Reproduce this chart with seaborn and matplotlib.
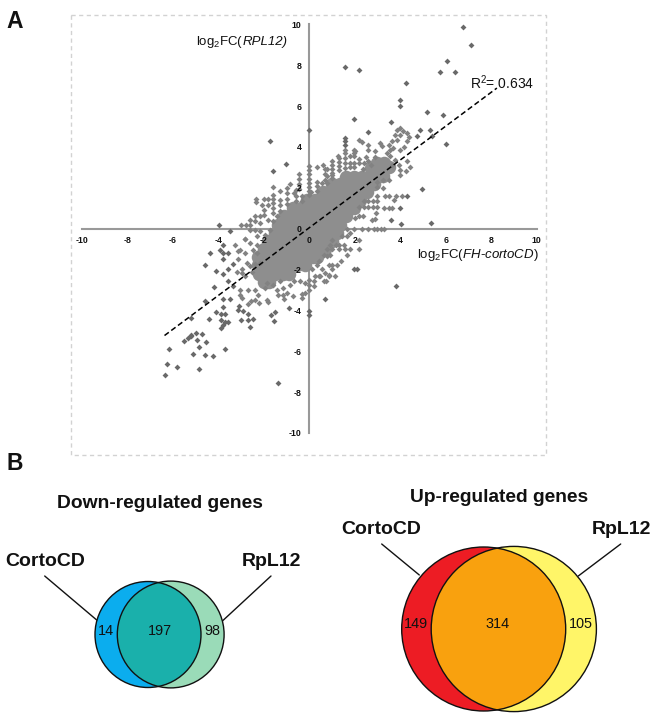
import matplotlib
matplotlib.use("Agg")
import matplotlib.pyplot as plt
from matplotlib.patches import Circle, Rectangle
import seaborn as sns

sns.set_style("white")
plt.rcParams["font.family"] = ["Liberation Sans", "DejaVu Sans"]
plt.rcParams["mathtext.fontset"] = "custom"
plt.rcParams["mathtext.rm"] = "Liberation Sans"
plt.rcParams["mathtext.it"] = "Liberation Sans:italic"
plt.rcParams["mathtext.bf"] = "Liberation Sans:bold"

W, H = 657, 720

tick_values = [-10, -8, -6, -4, -2, 0, 2, 4, 6, 8, 10]
fit_x = [-6.36, 8.25]
fit_y = [-5.23, 6.88]

core_pts = [
 (-2.0,-2.6),(-1.75,-2.6),
 (-2.2,-2.2),(-1.85,-2.2),(-1.5,-2.2),(-1.15,-2.2),(-0.9,-2.2),
 (-2.25,-1.8),(-1.95,-1.8),(-1.6,-1.8),(-1.25,-1.8),(-0.9,-1.8),(-0.55,-1.8),(-0.2,-1.8),
 (-2.25,-1.4),(-1.95,-1.4),(-1.6,-1.4),(-1.25,-1.4),(-0.9,-1.4),(-0.55,-1.4),(-0.2,-1.4),(0.15,-1.4),(0.35,-1.4),
 (-2.0,-1.0),(-1.65,-1.0),(-1.3,-1.0),(-0.95,-1.0),(-0.6,-1.0),(-0.25,-1.0),(0.1,-1.0),(0.45,-1.0),(0.7,-1.0),
 (-1.8,-0.6),(-1.45,-0.6),(-1.1,-0.6),(-0.75,-0.6),(-0.4,-0.6),(-0.05,-0.6),(0.3,-0.6),(0.65,-0.6),(1.0,-0.6),
 (-1.5,-0.2),(-1.15,-0.2),(-0.8,-0.2),(-0.45,-0.2),(-0.1,-0.2),(0.25,-0.2),(0.6,-0.2),(0.95,-0.2),(1.2,-0.2),
 (-1.35,0.2),(-1.05,0.2),(-0.7,0.2),(-0.35,0.2),(0.0,0.2),(0.35,0.2),(0.7,0.2),(1.05,0.2),(1.35,0.2),
 (-1.1,0.6),(-0.85,0.6),(-0.5,0.6),(-0.15,0.6),(0.2,0.6),(0.55,0.6),(0.9,0.6),(1.25,0.6),(1.6,0.6),
 (-0.7,1.0),(-0.35,1.0),(0.0,1.0),(0.35,1.0),(0.7,1.0),(1.05,1.0),(1.4,1.0),(1.75,1.0),(1.95,1.0),
 (-0.1,1.4),(0.25,1.4),(0.6,1.4),(0.95,1.4),(1.3,1.4),(1.65,1.4),(2.0,1.4),(2.25,1.4),
 (0.6,1.8),(0.95,1.8),(1.3,1.8),(1.65,1.8),(2.0,1.8),(2.35,1.8),(2.55,1.8),
 (1.0,2.2),(1.35,2.2),(1.7,2.2),(2.05,2.2),(2.4,2.2),(2.75,2.2),(2.85,2.2),
 (1.6,2.55),(1.95,2.55),(2.3,2.55),(2.65,2.55),(3.0,2.55),(3.25,2.6),
 (2.7,2.95),(3.0,2.95),(3.35,2.95),(3.5,3.0),
 (3.0,3.2),(3.3,3.2),
]

fringe_pts = [
 # upper-left of the band
 (-1.57,2.02),(-0.84,2.2),(-1.3,1.86),(-1.57,1.66),(-2.33,1.47),(-2.33,1.3),(-2.0,1.47),(-1.79,1.47),(-1.57,1.47),
 (-2.08,1.17),(-1.79,1.17),(-1.57,1.25),(-1.3,1.42),(-1.3,1.17),(-1.57,1.0),(-1.57,0.77),(-2.0,0.93),(-2.0,0.68),(-1.27,0.85),
 (-0.98,2.0),(-0.98,1.74),(-0.98,1.47),(-0.98,1.22),(-0.69,1.74),(-0.6,1.9),(-0.6,1.58),(-0.6,1.33),(-0.32,1.58),(-0.32,1.33),
 (-0.44,2.69),(-0.44,2.45),(-0.44,2.2),(-0.44,1.95),(-2.99,0.2),(-2.8,0.2),(-2.6,0.44),(-2.6,0.2),(-2.37,0.6),(-2.18,0.6),(-2.37,0.36),(-2.15,0.28),
 (-2.6,-0.05),(-2.37,-0.05),(-2.15,-0.13),(-2.81,-0.5),(-2.3,-0.37),(-1.93,-0.3),(-1.71,-0.05),(-1.79,0.44),(-1.57,0.36),(-1.42,0.6),
 # column at x = 0 and above the band
 (0,3.05),(0,2.85),(0,2.65),(0,2.45),(0,2.25),(0,2.05),(0,1.85),(0,1.65),
 (0.34,3.0),(0.59,3.1),(0.78,2.92),(1.0,3.32),(1.0,3.1),(1.0,2.9),(1.0,2.7),(1.0,2.5),(1.26,3.57),(1.29,3.45),(1.29,3.25),(1.29,3.05),(1.29,2.85),
 (1.58,3.86),(1.58,3.7),(1.58,3.45),(1.58,3.2),(1.58,2.97),(1.99,3.86),(1.99,3.7),(1.99,3.54),(1.8,3.54),(2.17,3.2),(1.99,3.2),(1.99,3.0),
 (0.34,2.07),(0.34,2.3),(0.56,2.23),(0.78,2.56),(1.0,2.64),(0.78,2.23),(0.7,2.9),(0.7,2.65),(0.7,2.4),(0.34,1.85),(0.1,1.8),
 (1.8,3.2),(1.8,3.0),(2.4,3.2),(2.6,3.3),(2.2,3.4),(2.9,3.5),(2.5,3.5),(2.35,2.9),(2.7,3.1),
 # upper right, around the end of the band
 (3.63,3.13),(3.78,3.37),(3.56,3.54),(3.85,4.35),(3.63,4.27),(3.49,4.1),(3.12,4.19),(3.2,4.05),(3.7,3.94),(3.56,3.86),(3.41,3.7),
 (4.29,4.27),(4.15,4.0),(4.0,3.86),(4.29,3.29),(4.44,3.0),(4.25,2.84),(4.0,2.88),(3.93,3.13),(4.0,2.64),
 (3.97,4.92),(3.85,4.84),(4.12,4.76),(4.0,4.6),(3.78,4.6),(4.37,4.5),(4.29,4.68),
 (2.17,4.32),(2.32,4.24),(2.59,4.1),(2.59,3.86),(2.9,3.78),(2.02,3.78),
 # below the band, right side
 (3.24,1.99),(3.49,2.4),(3.24,2.4),(3.0,2.04),(3.0,2.3),(3.82,1.58),(3.74,1.42),(3.49,1.58),(3.34,1.58),(3.0,1.58),(4.07,1.58),
 (3.63,1.0),(3.49,1.0),(3.3,1.0),(3.0,1.06),(2.8,1.06),(2.6,1.06),(2.39,1.06),(2.17,1.06),(3.0,1.34),(2.8,1.34),(2.6,1.34),(2.39,1.34),
 (2.95,0.77),(2.75,0.44),(2.9,0.47),(2.36,0.6),(2.2,0.6),(2.02,0.52),
 (1.66,0),(1.95,0),(2.32,0),(2.6,0),(2.83,0),(3.0,0),(3.15,0),(3.3,0),
 (2.21,-0.57),(2.17,-0.99),(1.8,-0.99),(1.58,-0.99),(1.29,-0.99),(1.65,-1.3),(1.41,-1.56),(0.99,-0.99),(0.92,-1.27),(1.22,-1.76),(1.14,-2.3),
 (0.99,-1.76),(0.99,-1.97),(0.85,-1.76),(0.85,-2.3),(0.7,-2.17),(0.56,-1.97),(0.48,-2.3),(0.26,-2.3),(0.63,-2.57),(0.73,-2.57),(0.19,-2.57),(0.19,-2.82),
 (1.51,-0.78),(1.29,-0.78),(1.19,-0.78),(1.44,-0.34),(1.66,-0.34),(1.8,-0.21),(0.99,-0.54),(0.92,-0.78),(0.77,-0.99),(0.77,-1.35),(0.63,-1.27),(0.45,-1.6),(0.34,-1.8),(0.12,-1.97),
 # below the band, left side
 (-3.25,-0.78),(-3.15,-1.11),(-3.03,-1.03),(-3.18,-2.13),(-2.81,-2.3),(-2.52,-2.13),(-2.74,-1.68),(-2.96,-1.97),(-2.96,-2.17),(-2.59,-1.84),(-2.37,-1.73),(-2.15,-1.68),
 (-2.81,-0.5),(-2.59,-0.7),(-2.3,-0.78),(-2.45,-1.03),(-2.81,-1.19),(-2.3,-1.19),(-3.11,-1.47),(-1.86,-2.66),(-1.93,-2.9),(-1.57,-2.74),(-1.42,-2.98),(-1.13,-2.9),(-0.98,-3.15),
 (-1.27,-2.57),(-0.84,-2.74),(-0.69,-2.57),(-0.4,-2.57),(-0.18,-2.66),(0,-2.5),(0,-2.74),(0.41,-2.33),(0.85,-2.25),
 (-3.03,-2.98),(-3.03,-3.26),(-2.96,-3.39),(-2.67,-3.0),(-2.37,-2.98),(-2.71,-3.67),(-2.56,-3.55),(-2.2,-3.63),(-2.37,-3.47),(-2.23,-3.23),(-1.86,-3.47),(-1.79,-3.58),
 (-1.35,-3.23),(-1.16,-3.23),(-1.1,-3.42),(-0.73,-3.31),(-0.32,-3.39),(-0.18,-3.15),(-0.03,-2.98),(-0.32,-3.2),
]

outlier_pts = [
 (-1.71,4.27),(-1.01,3.15),(-1.57,2.82),(-3.98,0.16),(-3.47,-0.1),(0,4.84),
 (1.58,7.89),(2.17,7.77),(1.99,5.36),(2.59,4.73),(1.58,4.43),(1.58,4.27),(1.58,4.1),
 (6.75,9.86),(7.12,9.0),(6.05,8.22),(5.76,7.68),(6.39,7.66),(4.25,7.14),(3.97,6.31),(3.97,6.01),
 (5.17,5.72),(5.88,5.54),(3.59,5.2),(4.85,4.81),(5.32,4.84),(4.76,4.55),(5.39,4.55),(6.0,4.16),
 (4.95,1.94),(4.32,1.58),(4.0,1.0),(3.59,0.44),(4.04,0.23),(5.35,0.28),
 (1.99,-1.97),(2.1,-1.97),(3.82,-2.79),(0.7,-3.44),
 (-1.39,-7.56),(-4.85,-6.85),(-5.79,-6.76),(-6.27,-6.62),(-6.34,-7.14),(-6.15,-5.88),(-5.11,-6.15),(-4.6,-6.2),(-4.23,-6.23),
 (-4.85,-5.8),(-3.71,-5.87),(-4.54,-5.54),(-4.91,-5.46),(-5.49,-5.48),(-5.33,-5.35),(-5.19,-5.27),(-5.19,-5.18),(-4.97,-5.09),(-4.72,-5.15),
 (-5.19,-4.37),(-4.4,-4.4),(-4.09,-4.08),(-3.87,-4.16),(-3.71,-4.16),(-3.87,-4.45),(-3.71,-4.56),(-3.57,-4.56),(-3.77,-4.73),(-3.87,-4.86),
 (-3.0,-4.47),(-2.71,-4.48),(-2.45,-4.42),(-2.59,-4.81),(-3.15,-3.96),(-3.08,-3.77),(-2.89,-4.01),(-2.71,-4.16),
 (-1.68,-4.25),(-1.49,-4.08),(-1.54,-4.5),(0,-4.24),(0,-4.01),(-0.89,-3.89),
 (-4.57,-3.55),(-3.77,-3.42),(-3.47,-3.45),(-3.77,-3.83),(-4.18,-2.85),(-3.57,-2.57),(-3.33,-2.82),
 (-4.59,-1.76),(-4.38,-1.21),(-4.09,-2.09),(-3.79,-2.2),(-3.57,-1.97),(-3.33,-1.73),(-3.8,-1.48),(-3.55,-1.19),(-3.91,-1.06),(-3.77,-1.19),(-3.77,-0.78),
]

down_counts = ["14", "197", "98"]
up_counts = ["149", "314", "105"]

fig = plt.figure(figsize=(W / 100, H / 100), dpi=100, facecolor="white")

# full-figure overlay in pixel coordinates for the dashed frame
ov = fig.add_axes([0, 0, 1, 1], zorder=0)
ov.set_xlim(0, W)
ov.set_ylim(H, 0)
ov.axis("off")
ov.add_patch(Rectangle((70.7, 15.3), 475, 439.7, fill=False, ec="#d2d2d2", lw=1.0, ls=(0, (3, 2.5))))

# scatter axes
L, R, T, B = 81.7, 536.7, 24.3, 433.0
ax = fig.add_axes([L / W, 1 - B / H, (R - L) / W, (B - T) / H], zorder=1)
ax.patch.set_alpha(0)
ax.set_xlim(-10, 10)
ax.set_ylim(-10, 10)

def split(pts):
    return [p[0] for p in pts], [p[1] for p in pts]

cx, cy = split(core_pts)
fx, fy = split(fringe_pts)
ox, oy = split(outlier_pts)
sns.scatterplot(x=cx, y=cy, s=95, marker="o", color="#8e8e8e", linewidth=0, ax=ax, zorder=2)
sns.scatterplot(x=fx, y=fy, s=9, marker="D", color="#828282", linewidth=0, ax=ax, zorder=2)
sns.scatterplot(x=ox, y=oy, s=9, marker="D", color="#696969", linewidth=0, ax=ax, zorder=2)
sns.lineplot(x=fit_x, y=fit_y, color="black", lw=1.1, ls=(0, (3.5, 2)), ax=ax, zorder=3, errorbar=None)

for s in ("top", "right"):
    ax.spines[s].set_visible(False)
for s in ("left", "bottom"):
    ax.spines[s].set_position("zero")
    ax.spines[s].set_color("#999999")
    ax.spines[s].set_linewidth(1.5)
    ax.spines[s].set_zorder(1.5)
ax.set_xticks(tick_values)
ax.set_yticks(tick_values)
ax.set_xticklabels([str(v) for v in tick_values])
ax.set_yticklabels([str(v) for v in tick_values])
ax.tick_params(axis="x", direction="in", length=2, width=0.8, color="#555555", pad=5.5, labelsize=6.3)
ax.tick_params(axis="y", direction="out", length=2, width=0.8, color="#555555", pad=3.5, labelsize=6.3)
for lab in ax.get_xticklabels() + ax.get_yticklabels():
    lab.set_fontweight("bold")
    lab.set_color("#111111")
    lab.set_zorder(5)
ax.grid(False)
ax.set_axisbelow(False)

# overlay for text and Venn, above the scatter axes
top = fig.add_axes([0, 0, 1, 1], zorder=2)
top.set_xlim(0, W)
top.set_ylim(H, 0)
top.axis("off")
top.patch.set_alpha(0)

def venn(cl, cr, cy_, rl, rr, col_l, col_r, col_o):
    a = Circle((cl, cy_), rl, fc=col_l, ec="none")
    b = Circle((cr, cy_), rr, fc=col_r, ec="none")
    top.add_patch(b)
    top.add_patch(a)
    clip = Circle((cl, cy_), rl, transform=top.transData)
    o = Circle((cr, cy_), rr, fc=col_o, ec="none")
    top.add_patch(o)
    o.set_clip_path(clip)
    top.add_patch(Circle((cl, cy_), rl, fill=False, ec="#111111", lw=1.0))
    top.add_patch(Circle((cr, cy_), rr, fill=False, ec="#111111", lw=1.0))

venn(148, 170.7, 634.5, 53, 53.4, "#0BADEE", "#9ADBB8", "#1AB0AB")
venn(483.7, 513.8, 629, 82, 82.6, "#ED1C24", "#FFF568", "#F9A10E")

for x0, y0, x1, y1 in [(44.7, 576, 96.7, 620), (271, 576, 222.7, 620.7),
                       (381.7, 544, 419.3, 575), (620.7, 544, 578.3, 576)]:
    top.plot([x0, x1], [y0, y1], color="#111111", lw=1.0)

def t(x, y, s, **kw):
    kw.setdefault("ha", "center")
    kw.setdefault("va", "center")
    return top.text(x, y, s, color="#111111", **kw)

t(15, 21, "A", fontsize=16.5, fontweight="bold")
t(15, 463, "B", fontsize=16.5, fontweight="bold")
t(160, 503, "Down-regulated genes", fontsize=13.9, fontweight="bold")
t(499, 497, "Up-regulated genes", fontsize=13.8, fontweight="bold")
t(45, 561, "CortoCD", fontsize=14, fontweight="bold")
t(271.7, 561, "RpL12", fontsize=14, fontweight="bold")
t(381, 529, "CortoCD", fontsize=14, fontweight="bold")
t(621, 529, "RpL12", fontsize=14, fontweight="bold")
for xp, s in zip([106, 160, 212], down_counts):
    t(xp, 631, s, fontsize=10.4)
for xp, s in zip([415.7, 498, 580.7], up_counts):
    t(xp, 624, s, fontsize=10.4)

# italic part as plain italic text so that the digits slant too
rend = fig.canvas.get_renderer()
it_part = t(288, 42, "RPL12)", fontsize=9.5, ha="right", style="italic")
left_px = it_part.get_window_extent(rend).x0
t(left_px, 42, r"$\mathrm{log_2FC(}$", fontsize=9.5, ha="right")
t(539, 255, r"$\mathrm{log_2FC(}\mathit{FH\text{-}cortoCD}\mathrm{)}$", fontsize=9.5, ha="right")
t(470, 83, r"R$^2$= 0.634", fontsize=10, ha="left")

fig.savefig("out.png", dpi=100)
